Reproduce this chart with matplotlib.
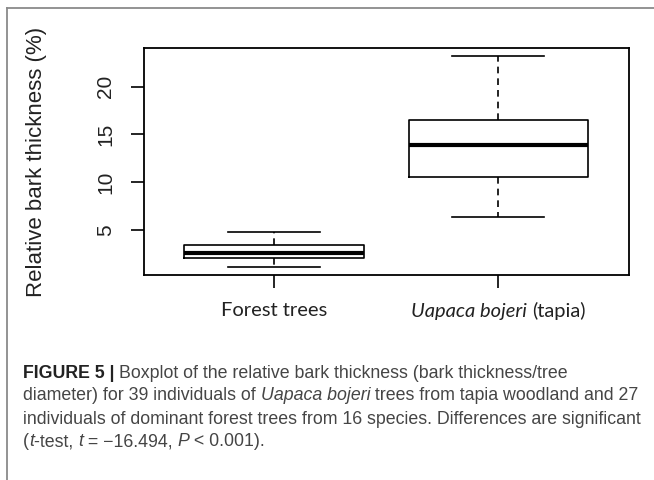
import matplotlib
matplotlib.use("Agg")
import matplotlib.pyplot as plt
from matplotlib.lines import Line2D

# ---- data ----
groups = ["Forest trees", "Uapaca bojeri (tapia)"]
whisker_low = [1.16, 6.36]
q1 = [2.04, 10.58]
median = [2.56, 13.87]
q3 = [3.43, 16.51]
whisker_high = [4.76, 23.21]
yticks = [5, 10, 15, 20]

W, H = 654, 480
fig = plt.figure(figsize=(W / 100, H / 100), dpi=100)

# outer frame (top + left gray lines)
fig.add_artist(Line2D([7 / W, 1.0], [1 - 8 / H, 1 - 8 / H], color="#8a8a8a", lw=1.3))
fig.add_artist(Line2D([7 / W, 7 / W], [1 - 8 / H, 0.0], color="#8a8a8a", lw=1.3))

left, right, top, bottom = 143.5, 628.5, 48, 275
ax = fig.add_axes([left / W, 1 - bottom / H, (right - left) / W, (bottom - top) / H])

stats = []
for i in range(len(groups)):
    stats.append(dict(whislo=whisker_low[i], q1=q1[i], med=median[i], q3=q3[i],
                      whishi=whisker_high[i], fliers=[], label=""))

ax.bxp(stats, positions=[1, 2], widths=0.8, showfliers=False, capwidths=0.41,
       boxprops=dict(color="black", lw=1.2),
       medianprops=dict(color="black", lw=3.0),
       whiskerprops=dict(color="black", lw=1.2, linestyle=(0, (4, 3))),
       capprops=dict(color="black", lw=1.2))

ax.set_xlim(0.418, 2.58)
ax.set_ylim(0.29, 24.05)
for s in ax.spines.values():
    s.set_linewidth(1.3)

ax.set_yticks(yticks)
ax.set_yticklabels([str(v) for v in yticks], rotation=90, va="center",
                   fontsize=15, family="Liberation Sans", color="#222222")
ax.tick_params(axis="y", length=9.5, width=1.2, pad=11)
ax.set_xticks([1, 2])
ax.set_xticklabels([])
ax.tick_params(axis="x", length=9.5, width=1.2)

ax.set_ylabel("Relative bark thickness (%)", fontsize=16, family="Liberation Sans",
              color="#222222")
ax.yaxis.set_label_coords((47 - left) / (right - left), 0.5)

# x category labels (mixed italic)
ylab = 1 - 311 / H
xfs = 14.5
fig.text(274 / W, ylab, "Forest trees", ha="center", va="center",
         fontsize=xfs, family="Lato", color="#222222")
fig.canvas.draw()
r = fig.canvas.get_renderer()
a = fig.text(0, ylab, "Uapaca bojeri", ha="left", va="center",
             fontsize=xfs, family="Lato", style="italic", color="#222222")
b = fig.text(0, ylab, "(tapia)", ha="left", va="center",
             fontsize=xfs, family="Lato", color="#222222")
fig.canvas.draw()
wa = a.get_window_extent(r).width
wb = b.get_window_extent(r).width
gap = 6
x0 = 498.3 - (wa + gap + wb) / 2
a.set_x(x0 / W)
b.set_x((x0 + wa + gap) / W)

# caption
cap_x = 23
cap_col = "#454545"
fs = 12.8
fam = "Liberation Sans"
lines_y = [373, 396, 419, 442]


def run(parts, y):
    x = cap_x
    for txt, kw in parts:
        t = fig.text(x / W, 1 - y / H, txt, ha="left", va="center", fontsize=fs,
                     family=fam, color=kw.get("color", cap_col),
                     weight=kw.get("weight", "normal"), style=kw.get("style", "normal"))
        fig.canvas.draw()
        x = t.get_window_extent(r).x1


run([("FIGURE 5 | ", dict(weight="bold", color="#222222")),
     ("Boxplot of the relative bark thickness (bark thickness/tree", {})], lines_y[0])
run([("diameter) for 39 individuals of ", {}), ("Uapaca bojeri", dict(style="italic")),
     (" trees from tapia woodland and 27", {})], lines_y[1])
run([("individuals of dominant forest trees from 16 species. Differences are significant", {})],
    lines_y[2])
run([("(", {}), ("t", dict(style="italic")), ("-test, ", {}), ("t", dict(style="italic")),
     (" = \u221216.494, ", {}), ("P", dict(style="italic")), (" < 0.001).", {})], lines_y[3])

fig.savefig("out.png", dpi=100)
